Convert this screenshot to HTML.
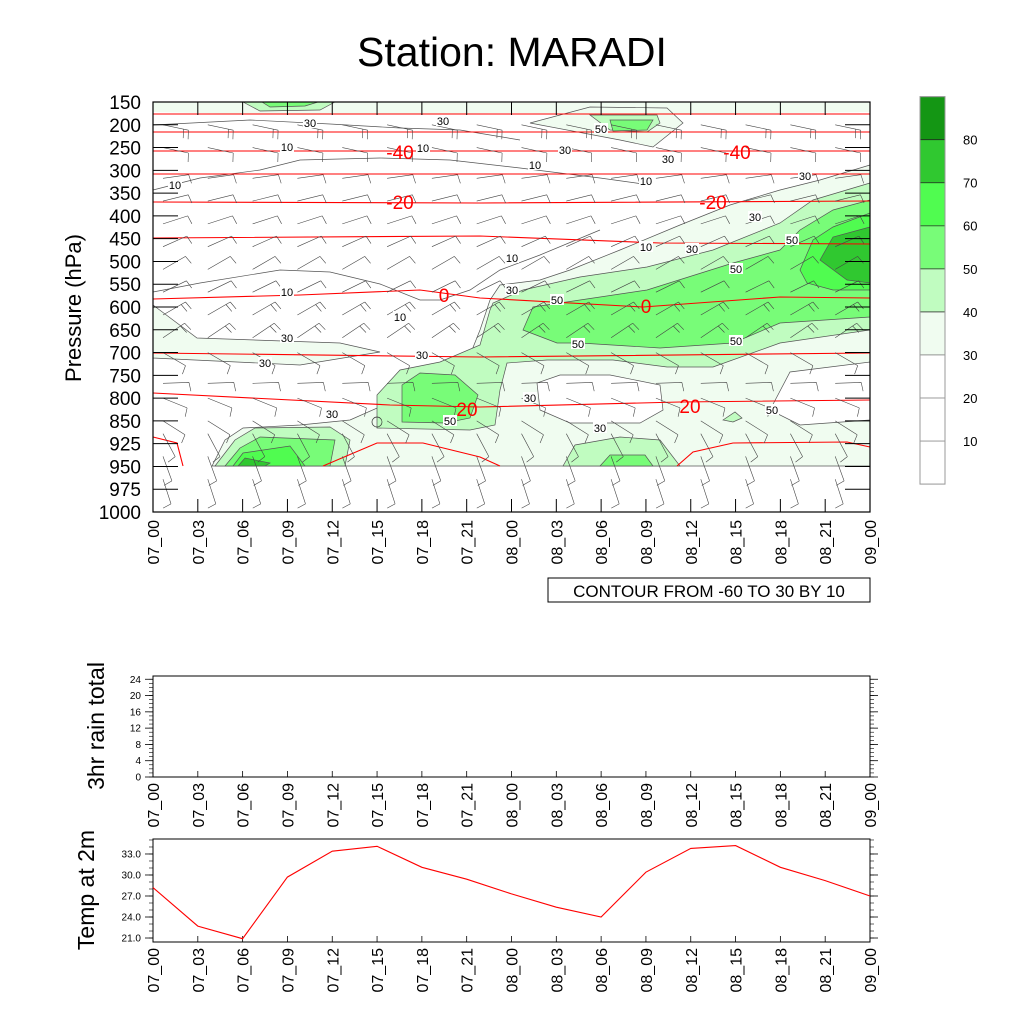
<!DOCTYPE html>
<html><head><meta charset="utf-8"><style>
html,body{margin:0;padding:0;background:#fff}
svg{display:block;font-family:"Liberation Sans",sans-serif}
</style></head><body>
<svg id="root" width="1024" height="1024" viewBox="0 0 1024 1024" xmlns="http://www.w3.org/2000/svg">
<text x="512" y="66" font-size="41" text-anchor="middle">Station: MARADI</text>
<g id="main"></g>
<g id="cbar"></g>
<g id="rain"></g>
<g id="temp"></g>
</svg>
<script>
const times=["07_00","07_03","07_06","07_09","07_12","07_15","07_18","07_21","08_00","08_03","08_06","08_09","08_12","08_15","08_18","08_21","09_00"];
const levels=["150","200","250","300","350","400","450","500","550","600","650","700","750","800","850","925","950","975","1000"];
const tempValues=[28.2,22.7,20.9,29.7,33.4,34.1,31.1,29.4,27.3,25.4,24.0,30.4,33.8,34.2,31.1,29.2,27.0];
const rainValues=[0,0,0,0,0,0,0,0,0,0,0,0,0,0,0,0,0];
const tempTicks=[21,24,27,30,33];
const rainTicks=[0,4,8,12,16,20,24];
const cbarLabels=[10,20,30,40,50,60,70,80];
// barb direction (screen angle of staff, deg) per level row 1..17
const barbAngles=[-12,-12,8,14,18,24,30,26,30,34,-30,2,-22,-32,-62,-70,-72];
const barbFeathers=[2,1,1,1,1,1,1,1,2,2,1,1,1,1,1,1,1];

const NS="http://www.w3.org/2000/svg";
function el(parent,tag,attrs,name,text){const e=document.createElementNS(NS,tag);for(const k in attrs)e.setAttribute(k,attrs[k]);


if(text!==undefined)e.textContent=text;parent.appendChild(e);return e;}
const L=153,R=870,T=102,B=512;
const X=t=>L+t*(R-L)/16;
const Y=l=>T+l*(B-T)/18;
const main=document.getElementById('main');

const C1="#f0fcf0",C2="#c0fcc0",C3="#78fc78",C4="#50fc50",C5="#30c830";
const fills=[
[C1,[[153,102],[870,102],[870,112],[700,114],[500,113],[300,115],[153,112]]],
[C2,[[243,102],[335,102],[320,110],[260,111]]],
[C3,[[262,102],[318,102],[305,106],[270,107]]],
[C1,[[530,123],[590,107],[667,108],[683,123],[653,147],[620,140]]],
[C2,[[590,115],[657,115],[660,123],[647,132],[610,130]]],
[C3,[[610,120],[653,120],[647,130],[613,131]]],
[C1,[[153,305],[197,338],[340,343],[380,352],[300,365],[153,358]]],
[C1,[[212,466],[225,440],[243,428],[300,425],[350,420],[400,398],[440,375],[470,355],[480,330],[490,300],[500,285],[540,280],[570,270],[620,250],[680,225],[730,205],[780,190],[820,180],[870,165],[870,466]]],
["#fff",[[537,383],[560,375],[610,375],[660,385],[663,410],[640,423],[570,423],[540,410]]],
["#fff",[[770,410],[790,372],[870,362],[870,420],[800,425]]],
[C2,[[377,428],[377,395],[400,370],[440,362],[480,345],[490,310],[493,303],[523,290],[580,277],[647,267],[713,250],[780,223],[813,200],[870,183],[870,330],[780,343],[713,367],[667,367],[613,360],[547,360],[507,363],[500,390],[495,425],[470,430]]],
[C3,[[402,385],[420,373],[455,375],[478,395],[470,418],[445,423],[402,422]]],
[C3,[[523,330],[533,307],[580,300],[647,290],[733,263],[780,250],[800,230],[833,210],[870,200],[870,317],[780,323],[733,343],[660,348],[580,343],[557,343]]],
[C4,[[800,270],[813,240],[833,227],[870,213],[870,290],[833,290],[807,283]]],
[C5,[[820,260],[833,237],[870,227],[870,283],[847,280]]],
[C2,[[215,466],[235,440],[255,428],[330,427],[350,440],[345,466]]],
[C3,[[225,466],[240,448],[260,437],[335,440],[330,466]]],
[C4,[[233,466],[243,453],[290,446],[305,466]]],
[C5,[[238,466],[245,458],[270,463],[265,466]]],
[C2,[[563,466],[575,445],[620,437],[660,440],[680,466]]],
[C3,[[600,466],[610,455],[645,455],[653,466]]],
[C2,[[723,420],[735,412],[742,418],[733,422]]]
];
fills.forEach((f,i)=>{el(main,'polygon',{points:f[1].map(p=>p.join(',')).join(' '),fill:f[0],stroke:i<1?'none':'#555','stroke-width':0.7},'contour-fill-'+i);});
const tenLines=[[[153,292],[200,283],[280,270],[330,272],[380,284],[420,300],[440,300],[470,290],[500,270],[540,255],[600,230]],
[[153,190],[200,178],[260,170],[300,160],[380,158],[450,160],[520,168],[600,178],[650,185]],
[[153,125],[250,120],[330,124],[400,128],[460,130],[520,140]]];
tenLines.forEach((ln,i)=>el(main,'polyline',{points:ln.map(p=>p.join(',')).join(' '),fill:'none',stroke:'#555','stroke-width':0.7},'contour-line-10-'+i));

const reds=[
[[153,114],[870,114]],[[153,132],[870,132]],[[153,151],[400,151],[870,151]],[[153,174],[870,174]],
[[153,202],[480,203],[870,201]],[[153,238],[480,236],[660,243],[870,244]],
[[153,299],[300,295],[420,290],[480,298],[643,307],[780,297],[870,298]],
[[153,353],[480,357],[870,353]],
[[153,393],[390,405],[480,407],[680,402],[870,400]],
[[153,437],[177,443],[183,466]],[[323,466],[377,443],[423,443],[480,457],[500,466]],
[[677,466],[693,452],[733,443],[847,442],[870,447]]
];
reds.forEach((ln,i)=>el(main,'polyline',{points:ln.map(p=>p.join(',')).join(' '),fill:'none',stroke:'#f00','stroke-width':1.1},'isotherm-'+i));

barbAngles.forEach((a,i)=>{const l=i+1;for(let t=0;t<16;t++){
 const x0=X(t)+10,y0=Y(l)+(a>0?8:(a<-50?-10:0));const r=a*Math.PI/180,len=26;
 const x1=x0+len*Math.cos(r),y1=y0-len*Math.sin(r);
 let d=`M${x0.toFixed(1)},${y0.toFixed(1)}L${x1.toFixed(1)},${y1.toFixed(1)}`;
 for(let k=0;k<barbFeathers[i];k++){const bx=x1-k*5*Math.cos(r),by=y1+k*5*Math.sin(r);const fr=(a-80)*Math.PI/180;
  d+=`M${bx.toFixed(1)},${by.toFixed(1)}l${(9*Math.cos(fr)).toFixed(1)},${(-9*Math.sin(fr)).toFixed(1)}`;}
 el(main,'path',{d:d,stroke:'#444','stroke-width':0.6,fill:'none'},'wind-barb');
}});
el(main,'circle',{cx:377,cy:422,r:5,fill:'none',stroke:'#333','stroke-width':0.7},'calm-wind-circle');

const clabels=[["30",310,123],["30",443,121],["10",287,147],["10",423,148],["10",175,185],["10",535,165],["30",565,150],["30",668,159],["10",646,181],["30",805,176],["30",755,217],["10",646,247],["30",692,249],["50",792,240],["10",512,258],["50",736,269],["10",287,292],["30",512,290],["50",557,300],["10",400,317],["30",287,338],["30",265,363],["30",422,355],["50",578,344],["50",736,341],["30",332,414],["30",530,398],["50",450,421],["30",600,428],["50",772,410],["50",601,129]];
clabels.forEach(c=>{el(main,'rect',{x:c[1]-7,y:c[2]-6,width:14,height:11,fill:'#fff'},'contour-label-bg');
 el(main,'text',{x:c[1],y:c[2]+4,'font-size':11,'text-anchor':'middle'},'contour-label',c[0]);});
const rlabels=[["-40",400,159],["-40",737,159],["-20",400,209],["-20",713,209],["0",444,302],["0",646,313],["20",467,416],["20",690,413]];
rlabels.forEach(c=>el(main,'text',{x:c[1],y:c[2],'font-size':19,fill:'#f00','text-anchor':'middle'},'isotherm-label',c[0]));

el(main,'rect',{x:L,y:T,width:R-L,height:B-T,fill:'none',stroke:'#000','stroke-width':1.2},'plot-frame');
levels.forEach((lv,i)=>{const y=Y(i);
 el(main,'line',{x1:L,y1:y,x2:L+25,y2:y,stroke:'#000','stroke-width':1},'y-tick');
 el(main,'line',{x1:R,y1:y,x2:R-25,y2:y,stroke:'#000','stroke-width':1},'y-tick-right');
 el(main,'text',{x:141,y:y+7,'font-size':19,'text-anchor':'end'},'y-tick-label',lv);});
times.forEach((tm,i)=>{const x=X(i);
 el(main,'line',{x1:x,y1:T,x2:x,y2:T+13,stroke:'#000','stroke-width':1},'x-tick-top');
 el(main,'line',{x1:x,y1:B,x2:x,y2:B-13,stroke:'#000','stroke-width':1},'x-tick');
 el(main,'text',{x:0,y:0,'font-size':16,'text-anchor':'end',transform:`translate(${x+6},${B+8}) rotate(-90)`},'x-tick-label',tm);});
el(main,'text',{x:0,y:0,'font-size':22,'text-anchor':'middle',transform:'translate(81,308) rotate(-90)'},'y-axis-title','Pressure (hPa)');
el(main,'rect',{x:548,y:578,width:322,height:24,fill:'#fff',stroke:'#000','stroke-width':1},'contour-info-box');
el(main,'text',{x:709,y:597,'font-size':17,'text-anchor':'middle'},'contour-info-text','CONTOUR FROM -60 TO 30 BY 10');

const cb=document.getElementById('cbar');
const cbColors=["#149614",C5,C4,C3,C2,C1,"#fff","#fff","#fff"];
cbColors.forEach((c,i)=>el(cb,'rect',{x:920,y:96.7+i*43.05,width:25,height:43.05,fill:c,stroke:i<6?'#222':'#888','stroke-width':0.7},'colorbar-box'));
el(cb,'rect',{x:920,y:96.7,width:25,height:387.4,fill:'none',stroke:'#999','stroke-width':1},'colorbar-frame');
cbarLabels.forEach((v,i)=>el(cb,'text',{x:963,y:484-43.05*(i+1)+5,'font-size':13},'colorbar-label',String(v)));

function panel(g,top,bot,vmin,vmax,ticks,fmt,title,titleY,minorStep){
 const ys=v=>bot-(v-vmin)/(vmax-vmin)*(bot-top);
 el(g,'rect',{x:L,y:top,width:R-L,height:bot-top,fill:'none',stroke:'#000','stroke-width':1},title+'-frame');
 for(let v=Math.ceil(vmin/minorStep)*minorStep;v<=vmax+1e-6;v+=minorStep){const y=ys(v);
  el(g,'line',{x1:L-4,y1:y,x2:L,y2:y,stroke:'#000','stroke-width':0.6},'minor-tick');
  el(g,'line',{x1:R,y1:y,x2:R+4,y2:y,stroke:'#000','stroke-width':0.6},'minor-tick-right');}
 ticks.forEach(v=>{const y=ys(v);
  el(g,'line',{x1:L-8,y1:y,x2:L,y2:y,stroke:'#000','stroke-width':0.8},'y-tick');
  el(g,'line',{x1:R,y1:y,x2:R+8,y2:y,stroke:'#000','stroke-width':0.8},'y-tick-right');
  el(g,'text',{x:L-12,y:y+3.5,'font-size':10,'text-anchor':'end'},'y-tick-label',fmt(v));});
 times.forEach((tm,i)=>{const x=X(i);
  el(g,'line',{x1:x,y1:bot,x2:x,y2:bot-6,stroke:'#000','stroke-width':0.8},'x-tick');
  el(g,'text',{x:0,y:0,'font-size':16,'text-anchor':'end',transform:`translate(${x+6},${bot+6}) rotate(-90)`},'x-tick-label',tm);});
 el(g,'text',{x:0,y:0,'font-size':23,'text-anchor':'middle',transform:`translate(${titleY[0]},${titleY[1]}) rotate(-90)`},'y-axis-title',title);
 return ys;}
const rg=document.getElementById('rain');
const ry=panel(rg,676,777,0,24.8,rainTicks,v=>String(v),'3hr rain total',[104,726],1);
rainValues.forEach((v,i)=>{if(v>0)el(rg,'rect',{x:X(i)-4,y:ry(v),width:8,height:777-ry(v),fill:'#00f'},'rain-bar');});
const tg=document.getElementById('temp');
const ty=panel(tg,839,942,20.43,35.14,tempTicks,v=>v.toFixed(1),'Temp at 2m',[94,890],1);
el(tg,'polyline',{points:tempValues.map((v,i)=>X(i).toFixed(1)+','+ty(v).toFixed(1)).join(' '),fill:'none',stroke:'#f00','stroke-width':1.1},'temp-line');
</script>
</body></html>
